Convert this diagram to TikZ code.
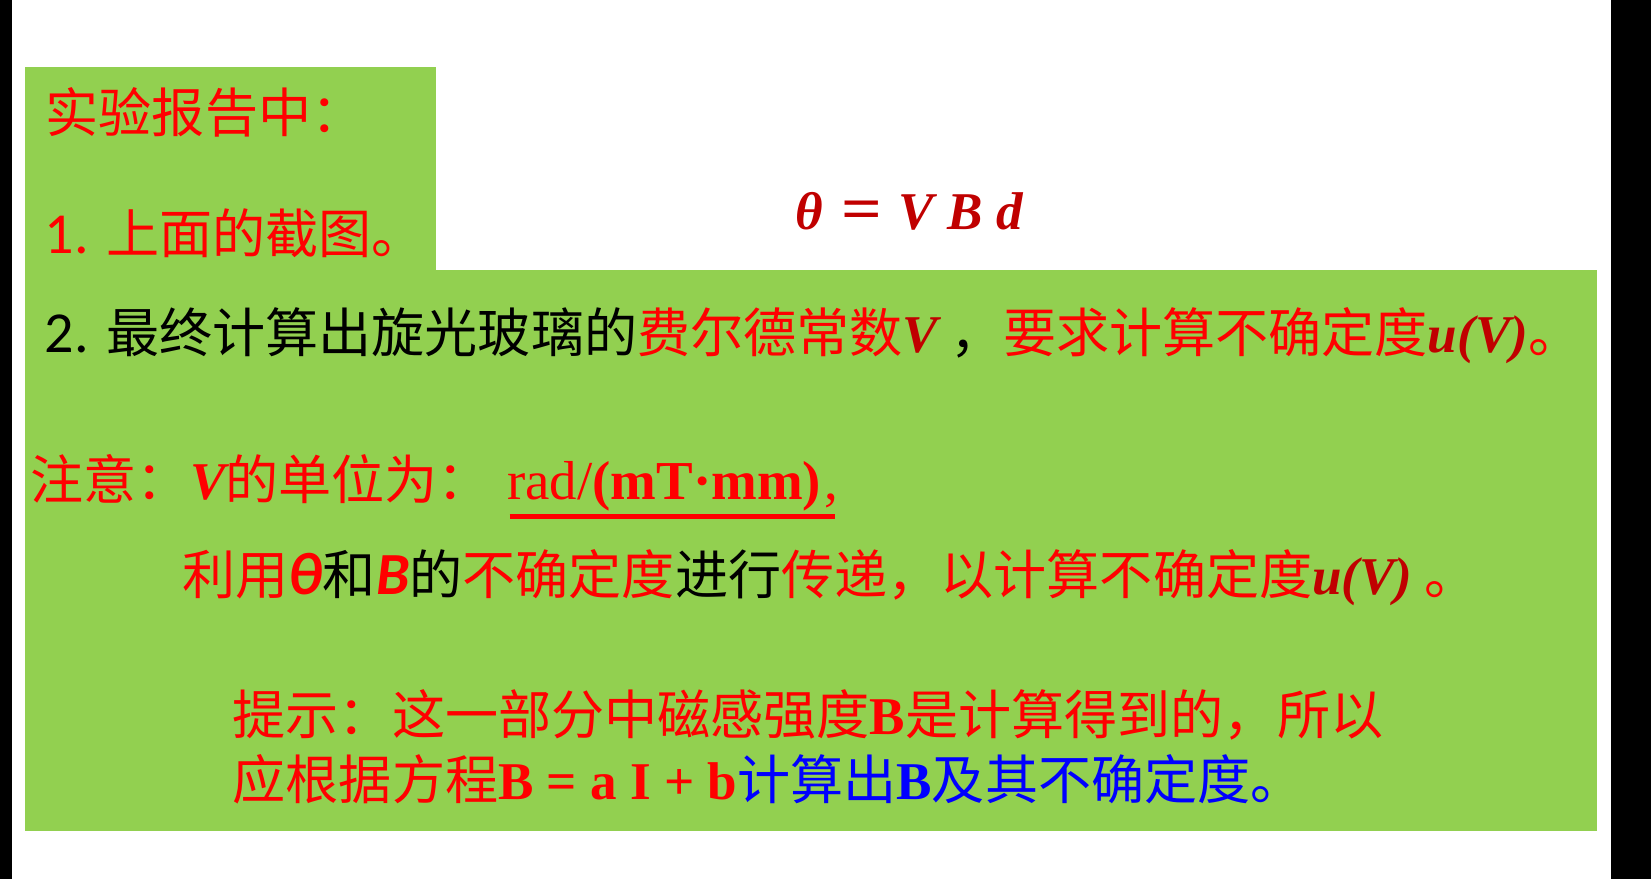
\documentclass[tikz,border=0pt]{standalone}
\usepackage{fontspec}
\setmainfont{Liberation Serif}
\newfontfamily\cjk{Noto Sans CJK SC}
\newfontfamily\calib{Carlito}
\usepackage{color}
\definecolor{boxgreen}{RGB}{146,208,80}
\definecolor{deepred}{RGB}{192,0,0}
\usepackage{tikz}
\usetikzlibrary{calc,positioning}
\tikzstyle{textline}=[anchor=base west,inner sep=0pt,font=\cjk\fontsize{15.1pt}{18pt}\selectfont]
\tikzstyle{panel}=[fill=boxgreen]
\newcommand{\rmbi}[1]{{\rmfamily\bfseries\itshape #1}}
\newcommand{\sfbi}[1]{{\calib\fontsize{17pt}{20pt}\selectfont\bfseries\itshape #1}}
\newcommand{\num}[1]{{\calib\fontsize{16.5pt}{20pt}\selectfont #1}}

\begin{document}
\begin{tikzpicture}[x=0.01cm,y=-0.01cm]
\useasboundingbox (0,0) rectangle (1651,879);
% frame edges
\fill[black] (0,0) rectangle (12,879);
\fill[black] (1611,0) rectangle (1651,879);
% green panels
\fill[panel] (25,67) rectangle (436,272);
\fill[panel] (25,270) rectangle (1597,831);

\node[textline,red] (head) at (45,133) {实验报告中：};
\node[textline,red] (item1) at (44,254) {\num{1. }上面的截图。};
\node[textline,deepred] (formula) at (795,230) {\rmbi{θ\hspace{0.35em}\scalebox{1.35}[1.15]{\upshape=}\hspace{0.3em}V\hspace{0.25em}B\hspace{0.25em}d}};

\node[textline] (item2) at (44,352) {\num{2. }最终计算出旋光玻璃的\textcolor{red}{费尔德常数}\textcolor{deepred}{\rmbi{V}}\ ，\textcolor{red}{要求计算不确定度}\textcolor{deepred}{\rmbi{u(V)}}\textcolor{red}{。}};

\node[textline,red] (note) at (30,499) {注意：\rmbi{V}的单位为：};
\node[textline,red,font=\rmfamily\fontsize{15.6pt}{18pt}\selectfont] (unit) [right=0.15cm of note.base east,anchor=base west] {rad/{\bfseries(mT·mm)}};
\node[textline,red,font=\rmfamily\fontsize{15.6pt}{18pt}\selectfont] (ucomma) [right=0.02cm of unit.base east,anchor=base west] {,};
\draw[red,line width=0.05cm] ($(unit.base west)+(3,17)$) -- ($(unit.base east)+(13,17)$);

\node[textline] (prop) at (182,594) {\textcolor{red}{利用\sfbi{θ}}和\textcolor{red}{\sfbi{B}}的\textcolor{red}{不确定度}进行\textcolor{red}{传递，以计算不确定度}\textcolor{deepred}{\rmbi{u(V)}}\ \textcolor{red}{。}};

\node[textline,red] (hint1) at (232,734) {提示：这一部分中磁感强度{\rmfamily\bfseries B}是计算得到的，所以};
\node[textline,red] (hint2) at (232,799) {应根据方程{\rmfamily\bfseries B = a I + b}\textcolor{blue}{计算出{\rmfamily\bfseries B}及其不确定度。}};
\end{tikzpicture}
\end{document}
